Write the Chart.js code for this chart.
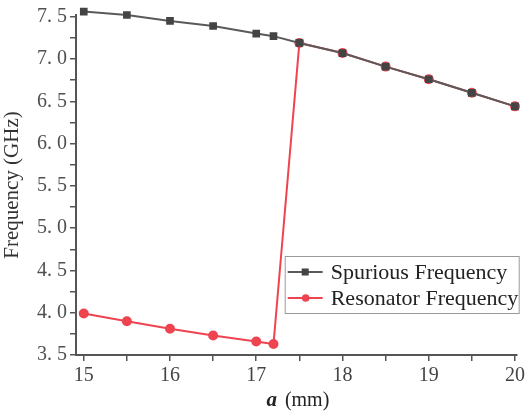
<!DOCTYPE html>
<html>
<head>
<meta charset="utf-8">
<script src="https://cdn.jsdelivr.net/npm/chart.js@4"></script>
<style>
  html, body { margin: 0; padding: 0; background: #fff; }
  #wrap { width: 528px; height: 414px; }
</style>
</head>
<body>
<div id="wrap"><canvas id="freqChart" width="528" height="414"></canvas></div>
<script>
// a (mm) vs frequency
const aValues = [15, 15.5, 16, 16.5, 17, 17.2, 17.5, 18, 18.5, 19, 19.5, 20];
const spuriousFreq = [7.56, 7.52, 7.45, 7.39, 7.30, 7.27, 7.19, 7.07, 6.91, 6.76, 6.60, 6.44];
const resonatorFreq = [3.99, 3.90, 3.81, 3.73, 3.66, 3.63, 7.19, 7.07, 6.91, 6.76, 6.60, 6.44];
const seriesNames = ['Spurious Frequency', 'Resonator Frequency'];

const serif = "'Liberation Serif', 'DejaVu Serif', serif";
const grey = '#5a5a5a';
const red = '#ee4450';

// legend box drawn inside the plot, bottom right
const insideLegend = {
  id: 'insideLegend',
  afterDraw(chart) {
    const ctx = chart.ctx;
    const area = chart.chartArea;
    const boxW = 234, boxH = 57;
    const x0 = area.right + 2 - boxW;
    const y0 = area.bottom - 99;
    ctx.save();
    ctx.fillStyle = '#fff';
    ctx.fillRect(x0, y0, boxW, boxH);
    ctx.strokeStyle = '#9a9a9a';
    ctx.lineWidth = 1;
    ctx.strokeRect(x0 + 0.5, y0 + 0.5, boxW, boxH);
    chart.data.datasets.forEach((ds, i) => {
      const cy = y0 + 16 + i * 26;
      ctx.strokeStyle = ds.borderColor;
      ctx.lineWidth = 2;
      ctx.beginPath();
      ctx.moveTo(x0 + 3, cy);
      ctx.lineTo(x0 + 38, cy);
      ctx.stroke();
      ctx.fillStyle = ds.pointBackgroundColor;
      if (ds.pointStyle === 'rect') {
        ctx.fillRect(x0 + 17, cy - 3.5, 7, 7);
      } else {
        ctx.beginPath();
        ctx.arc(x0 + 21, cy, 3.8, 0, Math.PI * 2);
        ctx.fill();
      }
      ctx.fillStyle = '#222';
      ctx.font = '22px ' + serif;
      ctx.textBaseline = 'middle';
      ctx.fillText(ds.label, x0 + 46, cy + 1);
    });
    ctx.restore();
  }
};

// x axis title: italic bold "a" plus unit
const xTitle = {
  id: 'xTitle',
  afterDraw(chart) {
    const ctx = chart.ctx;
    const area = chart.chartArea;
    const cx = (area.left + area.right) / 2;
    ctx.save();
    ctx.textBaseline = 'middle';
    ctx.fillStyle = '#222';
    ctx.font = 'italic bold 21px ' + serif;
    const aW = ctx.measureText('a').width;
    ctx.font = '20px ' + serif;
    const unit = ' (mm)';
    const uW = ctx.measureText(unit).width;
    const start = cx - (aW + uW) / 2;
    ctx.font = 'italic bold 21px ' + serif;
    ctx.fillText('a', start, area.bottom + 46);
    ctx.font = '20px ' + serif;
    ctx.fillText(unit, start + aW + 3, area.bottom + 46);
    ctx.restore();
  }
};

new Chart(document.getElementById('freqChart'), {
  type: 'line',
  data: {
    labels: aValues,
    datasets: [{
      label: seriesNames[0],
      data: aValues.map((a, i) => ({ x: a, y: spuriousFreq[i] })),
      borderColor: grey,
      backgroundColor: grey,
      pointBackgroundColor: '#444',
      pointBorderColor: '#444',
      pointStyle: 'rect',
      pointRadius: 4,
      borderWidth: 2,
      tension: 0,
      clip: false
    }, {
      label: seriesNames[1],
      data: aValues.map((a, i) => ({ x: a, y: resonatorFreq[i] })),
      borderColor: red,
      backgroundColor: red,
      pointBackgroundColor: red,
      pointBorderColor: red,
      pointStyle: 'circle',
      pointRadius: 4,
      borderWidth: 2,
      tension: 0,
      clip: false
    }]
  },
  options: {
    responsive: false,
    animation: false,
    layout: { padding: { top: 0, right: 8, left: 0, bottom: 0 } },
    plugins: {
      legend: { display: false },
      tooltip: { enabled: false }
    },
    scales: {
      x: {
        type: 'linear',
        min: 14.91,
        max: 20.02,
        afterFit: s => { s.height = 59; },
        border: { display: true, color: '#555', width: 2 },
        grid: { drawOnChartArea: false, tickLength: 6, color: '#555', lineWidth: 1.5 },
        ticks: {
          stepSize: 0.5,
          includeBounds: false,
          maxRotation: 0,
          autoSkip: false,
          padding: 3,
          color: '#444',
          font: { family: serif, size: 20 },
          callback: v => Number.isInteger(v) ? String(v) : ''
        }
      },
      y: {
        min: 3.5,
        max: 7.52,
        afterFit: s => { s.width = 76; },
        border: { display: true, color: '#555', width: 2 },
        grid: { drawOnChartArea: false, tickLength: 6, color: '#555', lineWidth: 1.5 },
        ticks: {
          stepSize: 0.25,
          includeBounds: false,
          autoSkip: false,
          padding: 3,
          color: '#505050',
          font: { family: serif, size: 20 },
          callback: v => (Math.round(v * 100) % 50 === 0) ? v.toFixed(1).replace('.', '. ') : ''
        }
      ,
        title: {
          display: true,
          text: 'Frequency (GHz)',
          color: '#333',
          font: { family: serif, size: 21 },
          padding: { top: 0, bottom: 0 }
        }
      }
    }
  },
  plugins: [insideLegend, xTitle]
});
</script>
</body>
</html>
